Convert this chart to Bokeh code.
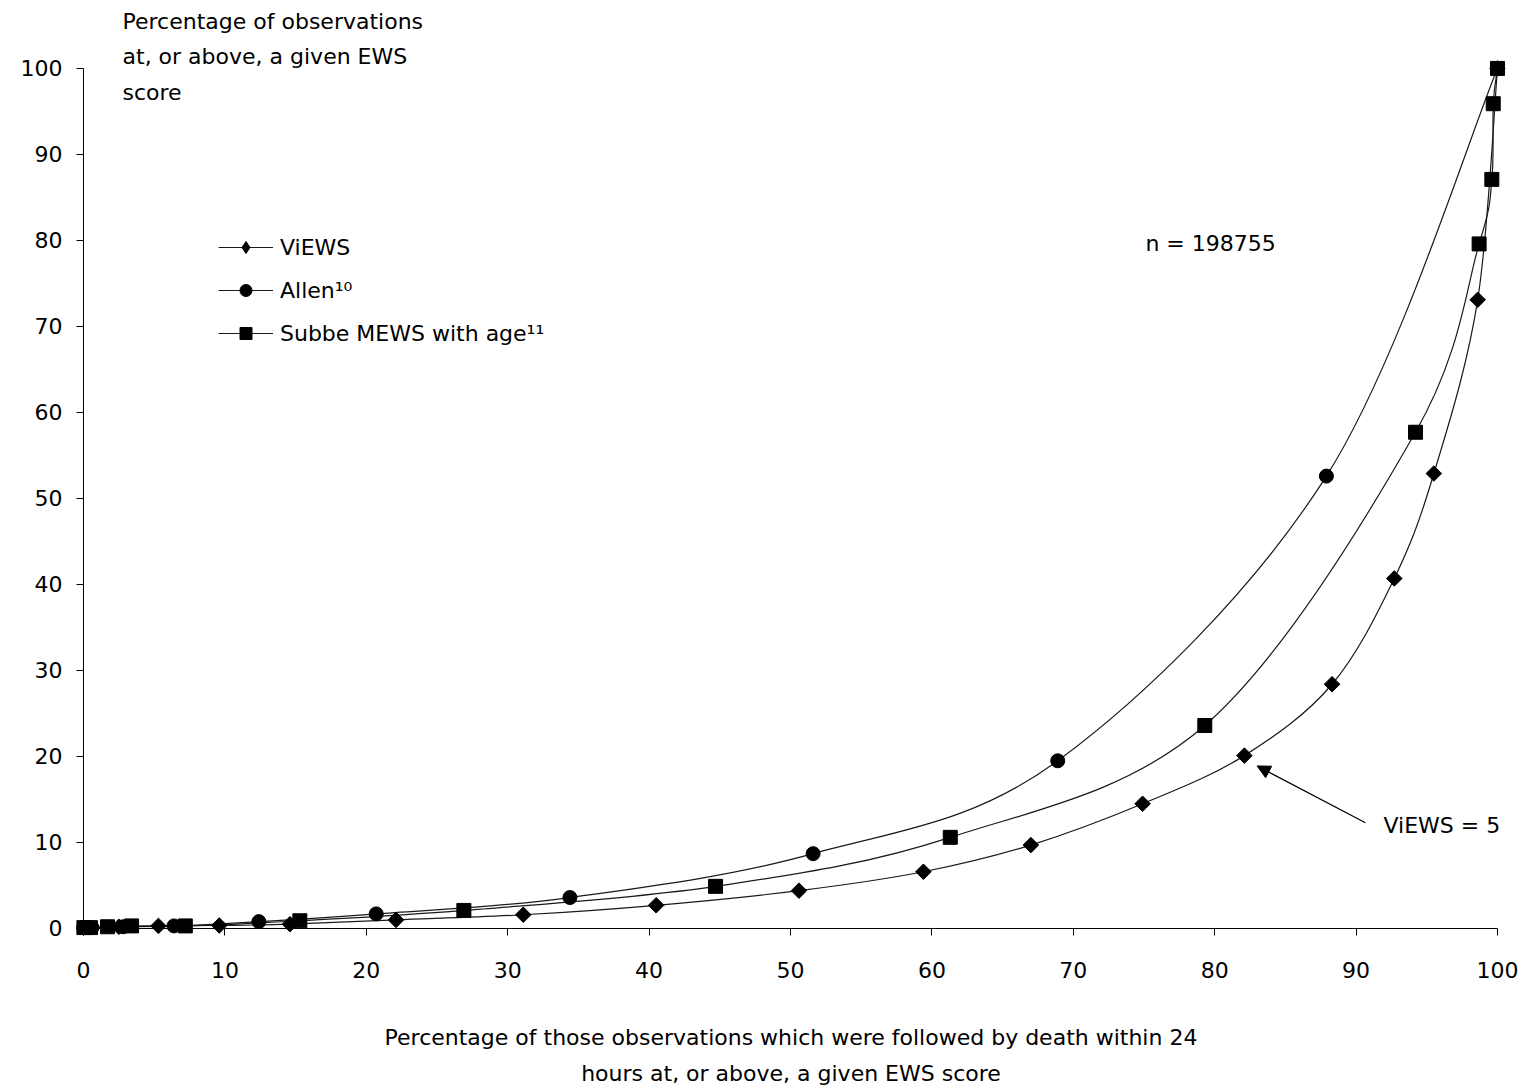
import numpy as np
from bokeh.plotting import figure
from bokeh.models import (Range1d, FixedTicker, Label, Legend, LegendItem,
                          Arrow, NormalHead, ColumnDataSource)
from bokeh.embed import file_html
from bokeh.resources import INLINE

# ---- data ----
views_x = [0, 2.5, 5.3, 9.6, 14.6, 22.1, 31.1, 40.5, 50.6, 59.4, 67.0, 74.9, 82.1, 88.3, 92.7, 95.5, 98.6, 100]
views_y = [0.1, 0.2, 0.3, 0.35, 0.5, 1.0, 1.6, 2.7, 4.4, 6.6, 9.7, 14.5, 20.1, 28.4, 40.7, 52.9, 73.1, 100]

allen_x = [0, 0.6, 2.8, 6.4, 12.4, 20.7, 34.4, 51.6, 68.9, 87.9, 100]
allen_y = [0.1, 0.1, 0.2, 0.3, 0.8, 1.7, 3.6, 8.7, 19.5, 52.6, 100]

subbe_x = [0, 0.5, 1.7, 3.4, 7.2, 15.3, 26.9, 44.7, 61.3, 79.3, 94.2, 98.7, 99.6, 99.7, 100]
subbe_y = [0.1, 0.1, 0.2, 0.3, 0.3, 0.9, 2.1, 4.9, 10.6, 23.6, 57.7, 79.6, 87.1, 95.9, 100]

x_ticks = [0, 10, 20, 30, 40, 50, 60, 70, 80, 90, 100]
y_ticks = [0, 10, 20, 30, 40, 50, 60, 70, 80, 90, 100]

series_names = ["ViEWS", "Allen\u00b9\u2070", "Subbe MEWS with age\u00b9\u00b9"]

FONT = "DejaVu Sans"
FS = "22px"


def smooth_source(xs, ys, k=1.0 / 6.0):
    """Bezier segments through the data points (Catmull-Rom style smoothing)."""
    xs = np.asarray(xs, float)
    ys = np.asarray(ys, float)
    n = len(xs)
    d = dict(x0=[], y0=[], x1=[], y1=[], cx0=[], cy0=[], cx1=[], cy1=[])
    for i in range(n - 1):
        im = max(i - 1, 0)
        ip = min(i + 2, n - 1)
        d["x0"].append(xs[i]); d["y0"].append(ys[i])
        d["x1"].append(xs[i + 1]); d["y1"].append(ys[i + 1])
        d["cx0"].append(xs[i] + (xs[i + 1] - xs[im]) * k)
        d["cy0"].append(ys[i] + (ys[i + 1] - ys[im]) * k)
        d["cx1"].append(xs[i + 1] - (xs[ip] - xs[i]) * k)
        d["cy1"].append(ys[i + 1] - (ys[ip] - ys[i]) * k)
    return ColumnDataSource(d)


X0, X1 = -0.495, 100.566
Y0, Y1 = -0.814, 107.9

p = figure(width=1524, height=1088,
           x_range=Range1d(X0, X1), y_range=Range1d(Y0, Y1),
           output_backend="svg", toolbar_location=None,
           min_border_left=76, min_border_right=19, min_border_top=0, min_border_bottom=153)

p.outline_line_color = None
p.grid.visible = False
p.background_fill_color = "white"
p.border_fill_color = "white"

# axes
p.xaxis.ticker = FixedTicker(ticks=x_ticks)
p.yaxis.ticker = FixedTicker(ticks=y_ticks)
for ax in (p.xaxis[0], p.yaxis[0]):
    ax.axis_line_color = None
    ax.major_tick_in = 7
    ax.major_tick_out = 0
    ax.minor_tick_in = 0
    ax.minor_tick_out = 0
    ax.major_tick_line_color = "black"
    ax.major_tick_line_width = 1
    ax.major_label_text_font = FONT
    ax.major_label_text_font_size = FS
    ax.major_label_text_color = "black"
p.yaxis.major_label_standoff = 14
p.xaxis.major_label_standoff = 26

p.xaxis.axis_label = ("Percentage of those observations which were followed by death within 24\n"
                      "hours at, or above, a given EWS score")
p.xaxis.axis_label_text_font = FONT
p.xaxis.axis_label_text_font_size = FS
p.xaxis.axis_label_text_font_style = "normal"
p.xaxis.axis_label_text_color = "black"
p.xaxis.axis_label_text_line_height = 1.45
p.xaxis.axis_label_standoff = 44

# axis lines at x=0 and y=0, bounded to the tick range
p.add_layout(Arrow(end=None, x_start=x_ticks[0], y_start=Y0, x_end=x_ticks[0], y_end=y_ticks[-1],
                   line_color="black", line_width=1))
p.add_layout(Arrow(end=None, x_start=X0, y_start=y_ticks[0], x_end=x_ticks[-1], y_end=y_ticks[0],
                   line_color="black", line_width=1))

LINE_COLOR = "#1a1a1a"
LW = 1.2
bz = dict(x0="x0", y0="y0", x1="x1", y1="y1", cx0="cx0", cy0="cy0", cx1="cx1", cy1="cy1",
          line_color=LINE_COLOR, line_width=LW)

# series
bez_v = p.bezier(source=smooth_source(views_x, views_y), **bz)
bez_a = p.bezier(source=smooth_source(allen_x, allen_y), **bz)
bez_s = p.bezier(source=smooth_source(subbe_x, subbe_y), **bz)

# diamond glyph used for the legend key (sits fully under the rotated squares below)
leg_v = p.scatter(views_x, views_y, marker="diamond", size=13,
                  fill_color="black", line_color="black")
sc_v = p.scatter(views_x, views_y, marker="square", angle=np.pi / 4, size=11,
                 fill_color="black", line_color="black")
sc_a = p.scatter(allen_x, allen_y, marker="circle", size=14,
                 fill_color="black", line_color="black")
sc_s = p.scatter(subbe_x, subbe_y, marker="square", size=14,
                 fill_color="black", line_color="black")

legend = Legend(items=[LegendItem(label=series_names[0], renderers=[bez_v, leg_v]),
                       LegendItem(label=series_names[1], renderers=[bez_a, sc_a]),
                       LegendItem(label=series_names[2], renderers=[bez_s, sc_s])],
                location=(142, 587), border_line_color=None, background_fill_alpha=0,
                glyph_width=55, glyph_height=30, spacing=13, label_standoff=7,
                padding=10, margin=0, label_text_font=FONT, label_text_font_size=FS,
                label_text_color="black")
p.add_layout(legend)

# texts
p.add_layout(Label(x=2.76, y=106.95, text="Percentage of observations\nat, or above, a given EWS\nscore",
                   text_font=FONT, text_font_size=FS, text_color="black",
                   text_baseline="top", text_align="left", text_line_height=1.42))
p.add_layout(Label(x=75.1, y=79.65, text="n  = 198755", text_font=FONT, text_font_size=FS,
                   text_color="black", text_baseline="middle", text_align="left"))
p.add_layout(Label(x=91.94, y=11.98, text="ViEWS = 5", text_font=FONT, text_font_size=FS,
                   text_color="black", text_baseline="middle", text_align="left"))

p.add_layout(Arrow(end=NormalHead(size=13, fill_color="black", line_color="black"),
                   x_start=90.66, y_start=12.3, x_end=83.0, y_end=18.9,
                   line_color="black", line_width=1.3))

open("out.html", "w").write(file_html(p, INLINE))
